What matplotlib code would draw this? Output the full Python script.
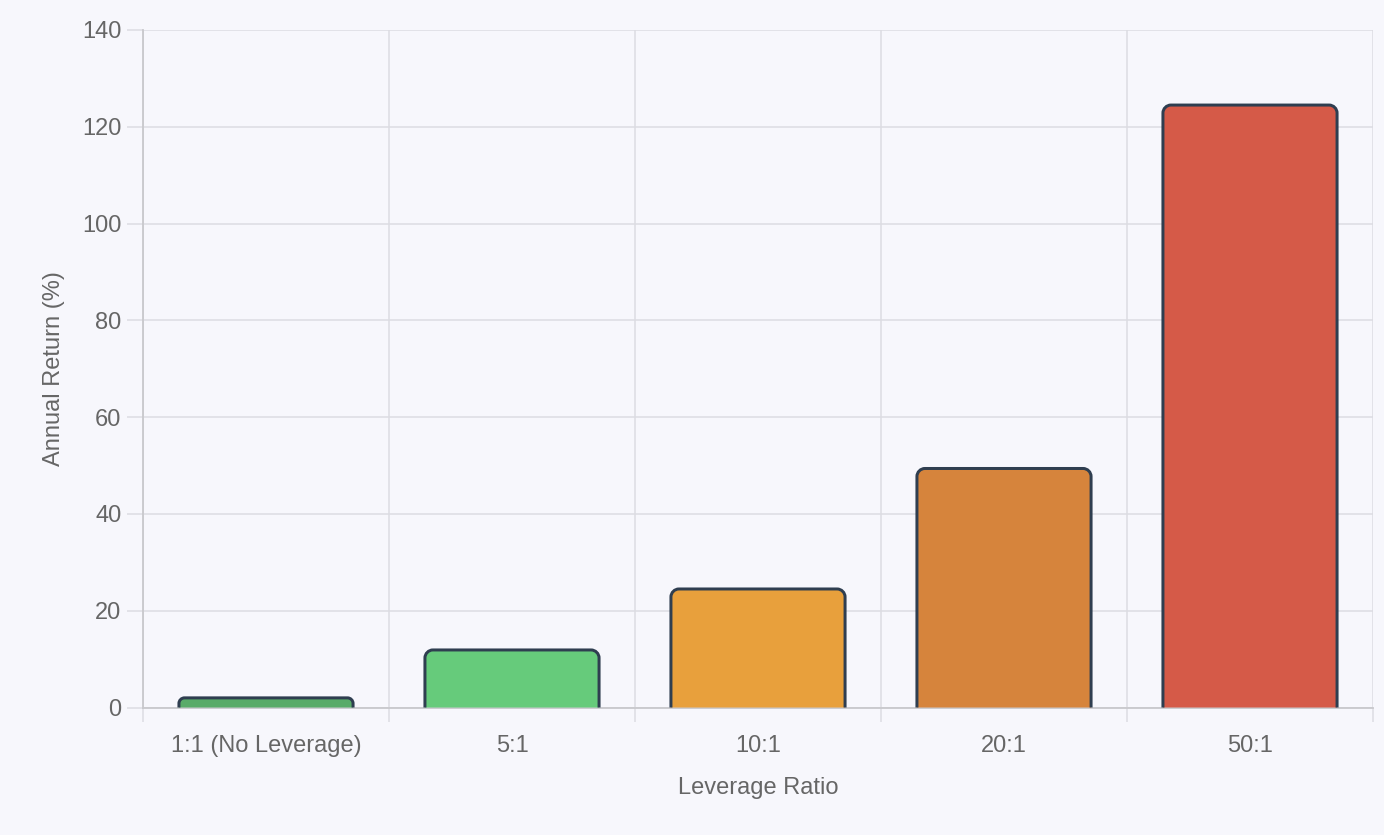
import matplotlib
matplotlib.use('Agg')
import matplotlib.pyplot as plt
from matplotlib.path import Path
from matplotlib.patches import PathPatch
import numpy as np

plt.rcParams['font.family'] = ['Liberation Sans', 'DejaVu Sans']

# Data
ratios = ['1:1 (No Leverage)', '5:1', '10:1', '20:1', '50:1']
annual_return = [2.3, 12.2, 24.8, 49.7, 124.8]
bar_colors = ['#59ab69', '#66cb7b', '#e8a03c', '#d6843c', '#d55a48']
edge_color = '#2f3e50'
y_ticks = [0, 20, 40, 60, 80, 100, 120, 140]

W, H, DPI = 1384, 835, 100
fig = plt.figure(figsize=(W / DPI, H / DPI), dpi=DPI)
fig.patch.set_facecolor('#f7f7fc')
ax = fig.add_axes([143 / W, 1 - 707.5 / H, (1373 - 143) / W, (707.5 - 30) / H])
ax.set_facecolor('#f7f7fc')

x = np.arange(len(ratios))
bars = ax.bar(x, annual_return, width=0.72, color=bar_colors)
ax.set_xlim(-0.5, len(ratios) - 0.5)
ax.set_ylim(0, 140)

# pixel -> data conversion for rounded tops
px_x = (len(ratios)) / (1373 - 143)
px_y = 140 / (707.5 - 30)
lw_px = 3.0
for b, c in zip(bars, bar_colors):
    x0 = b.get_x() + lw_px / 2 * px_x
    x1 = b.get_x() + b.get_width() - lw_px / 2 * px_x
    y1 = b.get_height() - lw_px / 2 * px_y
    y0 = 0
    h_px = b.get_height() / px_y
    w_px = b.get_width() / px_x
    r = min(8.0, h_px / 2, w_px / 2)
    rx, ry = r * px_x, r * px_y
    k = 0.5523
    verts = [(x0, y0), (x0, y1 - ry),
             (x0, y1 - ry + k * ry), (x0 + rx - k * rx, y1), (x0 + rx, y1),
             (x1 - rx, y1),
             (x1 - rx + k * rx, y1), (x1, y1 - ry + k * ry), (x1, y1 - ry),
             (x1, y0)]
    codes = [Path.MOVETO, Path.LINETO,
             Path.CURVE4, Path.CURVE4, Path.CURVE4,
             Path.LINETO,
             Path.CURVE4, Path.CURVE4, Path.CURVE4,
             Path.LINETO]
    patch = PathPatch(Path(verts, codes), facecolor=c, edgecolor=edge_color,
                      linewidth=lw_px * 0.72, joinstyle='round', zorder=3)
    ax.add_patch(patch)
    b.set_visible(False)

grid_c = '#dcdce2'
spine_c = '#c8c8cc'
ax.set_yticks(y_ticks)
ax.set_xticks(x)
ax.set_xticklabels(ratios)
ax.set_xticks(np.arange(-0.5, len(ratios)), minor=True)
ax.tick_params(axis='y', length=11.5, width=1.1, color=grid_c, pad=4,
               labelsize=17, labelcolor='#666666')
ax.tick_params(axis='x', which='major', length=0, pad=20,
               labelsize=17, labelcolor='#666666')
ax.tick_params(axis='x', which='minor', length=10, width=1.1, color=grid_c)
ax.grid(axis='y', color=grid_c, linewidth=1.1, zorder=0)
ax.grid(axis='x', which='minor', color=grid_c, linewidth=1.1, zorder=0)
ax.set_axisbelow(True)

for s in ['top', 'right']:
    ax.spines[s].set_visible(False)
for s in ['left', 'bottom']:
    ax.spines[s].set_color(spine_c)
    ax.spines[s].set_linewidth(1.3)

ax.set_xlabel('Leverage Ratio', fontsize=17, color='#666666', labelpad=14)
ax.set_ylabel('Annual Return (%)', fontsize=17, color='#666666', labelpad=12)

fig.savefig('out.png', dpi=DPI, facecolor=fig.get_facecolor())
